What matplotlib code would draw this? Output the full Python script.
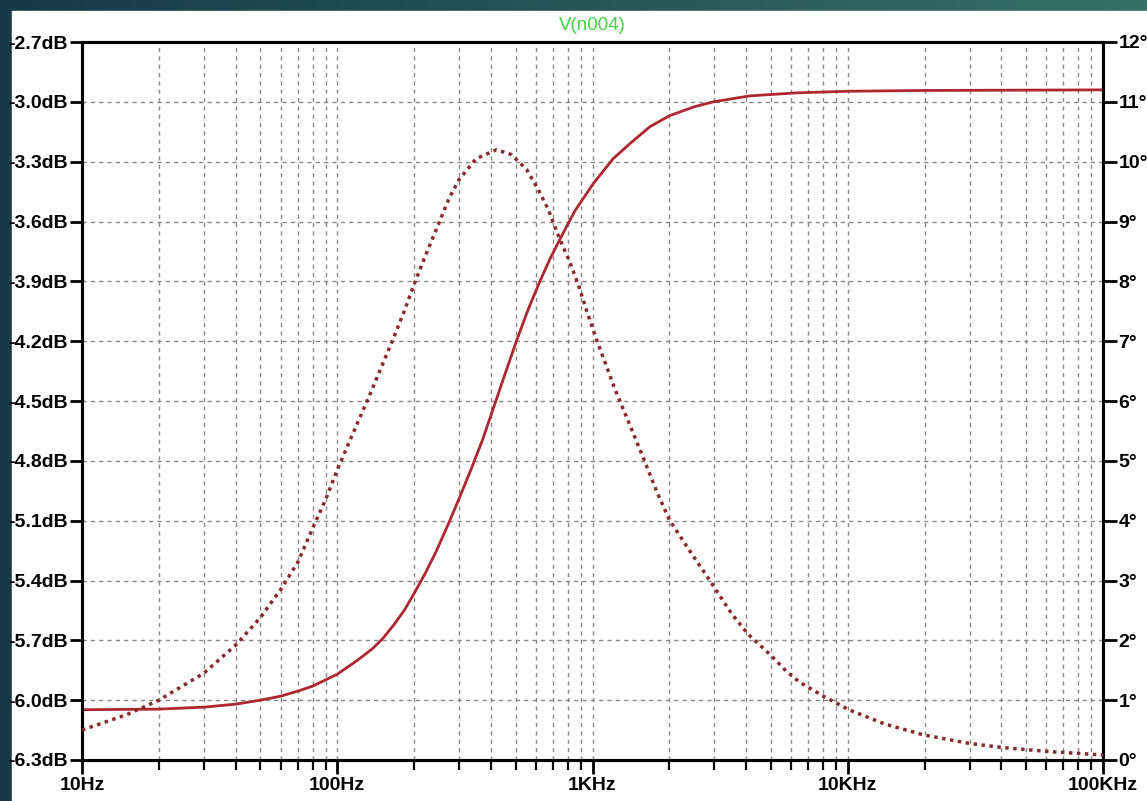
import numpy as np
import matplotlib
matplotlib.use("Agg")
import matplotlib.pyplot as plt
from matplotlib.patches import Rectangle
from matplotlib.ticker import FixedLocator, LogLocator, NullFormatter

# ---- data ----
mag_freq = [10, 15, 20, 30, 40, 50, 60, 70, 80, 100, 120, 138, 151, 166, 183, 200,
            222, 245, 276, 300, 335, 372, 408, 450, 505, 560, 622, 680, 745, 850,
            1007, 1205, 1400, 1678, 2000, 2500, 2973, 4140, 6310, 10000, 20000, 100000]
mag_db = [-6.048, -6.046, -6.045, -6.035, -6.02, -6.0, -5.98, -5.955, -5.93, -5.87,
          -5.80, -5.74, -5.69, -5.625, -5.55, -5.465, -5.36, -5.25, -5.10, -4.99,
          -4.84, -4.69, -4.54, -4.38, -4.195, -4.04, -3.90, -3.79, -3.69, -3.55,
          -3.41, -3.285, -3.21, -3.125, -3.07, -3.025, -3.00, -2.97, -2.955, -2.947,
          -2.943, -2.94]

ph_freq = [10, 15, 20, 30, 40, 50, 60, 70, 80.6, 90, 100, 115, 134, 150, 166, 183, 200,
           225, 249, 275, 300, 350, 421, 480, 552, 610, 671, 745, 810, 879, 950, 1038,
           1130, 1224, 1400, 1581, 1800, 2003, 2400, 2923, 3500, 4074, 5000, 5754,
           6486, 8000, 10100, 14000, 19800, 29700, 40000, 61900, 95000, 100000]
ph_deg = [0.50, 0.76, 1.0, 1.45, 1.92, 2.38, 2.85, 3.3, 3.9, 4.35, 4.85, 5.45, 6.1,
          6.6, 7.05, 7.5, 7.95, 8.5, 8.95, 9.4, 9.7, 10.05, 10.2, 10.12, 9.87, 9.55,
          9.2, 8.7, 8.35, 7.95, 7.5, 7.02, 6.6, 6.2, 5.6, 5.05, 4.45, 4.01, 3.5, 2.96,
          2.45, 2.1, 1.75, 1.48, 1.3, 1.07, 0.84, 0.6, 0.42, 0.28, 0.21, 0.14, 0.09,
          0.08]

db_ticks = [-6.3, -6.0, -5.7, -5.4, -5.1, -4.8, -4.5, -4.2, -3.9, -3.6, -3.3, -3.0, -2.7]
deg_ticks = list(range(0, 13))
freq_ticks = [10, 100, 1000, 10000, 100000]
freq_labels = ["10Hz", "100Hz", "1KHz", "10KHz", "100KHz"]
title = "V(n004)"

# ---- figure ----
W, H = 1147, 801
fig = plt.figure(figsize=(W / 100, H / 100), dpi=100)
plt.rcParams['font.family'] = ['Liberation Sans', 'DejaVu Sans']

# background gradient + white panel
bg = fig.add_axes([0, 0, 1, 1], zorder=-10)
grad = np.linspace(0, 1, 256)[None, :, None]
c0 = np.array([22, 58, 72]) / 255
c1 = np.array([54, 112, 104]) / 255
img = c0 + (c1 - c0) * grad
bg.imshow(img, aspect='auto', extent=[0, 1, 0, 1])
bg.add_patch(Rectangle((12 / W, 0), 1, 1 - 11 / H, color='white'))
bg.set_xlim(0, 1)
bg.set_ylim(0, 1)
bg.axis('off')

ax = fig.add_axes([82 / W, 1 - 760 / H, (1103 - 82) / W, (760 - 42) / H])
ax.set_xscale('log')
ax.set_xlim(10, 100000)
ax.set_ylim(-6.3, -2.7)
ax.set_facecolor('white')

red = '#ad2630'
ax.plot(mag_freq, mag_db, color=red, lw=2.0, solid_capstyle='round',
        solid_joinstyle='round', zorder=3)

ax2 = ax.twinx()
ax2.set_ylim(0, 12)
ax2.plot(ph_freq, ph_deg, color='#8a2832', lw=2.5, linestyle=(0, (1, 1.3)),
         dash_capstyle='butt', zorder=3)

# ticks
ax.xaxis.set_major_locator(FixedLocator(freq_ticks))
ax.set_xticklabels(freq_labels)
ax.xaxis.set_minor_locator(LogLocator(base=10, subs=np.arange(2, 10), numticks=20))
ax.xaxis.set_minor_formatter(NullFormatter())
ax.set_yticks(db_ticks)
ax.set_yticklabels([f"{v:.1f}dB" for v in db_ticks])
ax2.set_yticks(deg_ticks)
ax2.set_yticklabels([f"{v}°" for v in deg_ticks])

fs = 14
ax.tick_params(axis='x', which='major', length=10, width=2, labelsize=fs, pad=2,
               direction='out', colors='black')
ax.tick_params(axis='x', which='minor', length=7, width=1.6, direction='out')
ax.tick_params(axis='y', which='major', length=9, width=2, labelsize=fs, pad=1)
ax2.tick_params(axis='y', which='major', length=10, width=2, labelsize=fs, pad=1)
for lab in ax.get_xticklabels() + ax.get_yticklabels() + ax2.get_yticklabels():
    lab.set_fontweight('bold')
for a in (ax, ax2):
    for s in a.spines.values():
        s.set_linewidth(2.2)
        s.set_color('black')

# grid
ax.grid(True, which='major', axis='y', color='#888888', linestyle=(0, (3, 3)), lw=1.0)
ax.grid(True, which='both', axis='x', color='#888888', linestyle=(0, (3, 3)), lw=1.0)
ax.set_axisbelow(True)

fig.text((82 + 1103) / 2 / W, 1 - 25 / H, title, color='#3fd83f', fontsize=13.5,
         ha='center', va='center')

fig.savefig('out.png', dpi=100)
